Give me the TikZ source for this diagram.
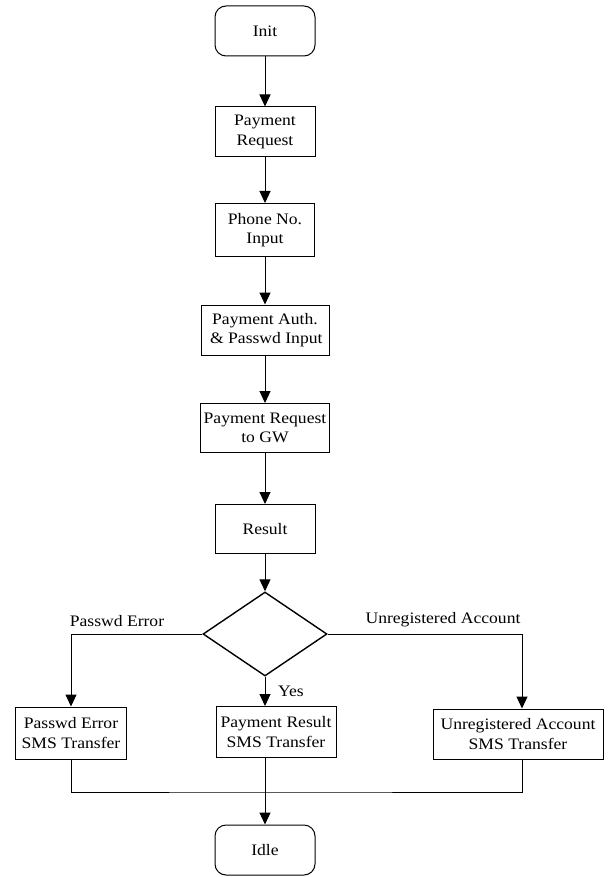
\documentclass[tikz,border=0pt]{standalone}
\usepackage{fontspec}
\setmainfont{Liberation Serif}[FakeStretch=1.1]
\usetikzlibrary{arrows.meta,shapes.geometric}
\begin{document}
\begin{tikzpicture}[x=1pt,y=-1pt,
  every node/.style={font=\fontsize{16}{19.5}\selectfont},
  proc/.style={draw, line width=1pt, inner sep=0pt, align=center},
  term/.style={proc, rounded corners=11pt},
  decide/.style={draw, diamond, line width=1.4pt, inner sep=0pt},
  flow/.style={line width=1pt},
  arr/.style={flow, -{Triangle[width=11pt,length=12pt]}},
  lbl/.style={inner sep=0pt}]
\useasboundingbox (0,0) rectangle (607,877);

% main column
\node[term, minimum width=100pt, minimum height=50pt] (init) at (265,31) {Init};
\node[proc, minimum width=100pt, minimum height=50pt] (preq) at (265,132) {Payment\\Request};
\node[proc, minimum width=99pt, minimum height=53pt] (phone) at (265,230) {Phone No.\\Input};
\node[proc, minimum width=128pt, minimum height=50pt] (auth) at (265,330) {Payment Auth.\\\,\& Passwd Input};
\node[proc, minimum width=129pt, minimum height=49pt] (gw) at (265,428) {Payment Request\\to GW};
\node[proc, minimum width=100pt, minimum height=49pt] (res) at (265,529) {Result};
\node[decide, minimum width=124pt, minimum height=84pt] (dec) at (265,634) {};

% outcome boxes
\node[proc, minimum width=111pt, minimum height=52pt] (perr) at (71,733) {Passwd Error\\SMS Transfer};
\node[proc, minimum width=120pt, minimum height=51pt] (pres) at (276,732) {Payment Result\\SMS Transfer};
\node[proc, minimum width=170pt, minimum height=50pt] (unreg) at (518,734) {Unregistered Account\\SMS Transfer};
\node[term, minimum width=100pt, minimum height=50pt] (idle) at (265,850) {Idle};

% branch labels
\node[lbl] (lpe) at (117,621) {Passwd Error};
\node[lbl] (lua) at (443,620) {Unregistered Account};
\node[lbl] (lyes) at (291,691) {Yes};

% connectors
\draw[arr] (init) -- (preq);
\draw[arr] (preq) -- (phone);
\draw[arr] (phone) -- (auth);
\draw[arr] (auth) -- (gw);
\draw[arr] (gw) -- (res);
\draw[arr] (res) -- (dec);
\draw[arr] (dec.west) -| (perr.north);
\draw[arr] (dec.south) -- (dec.south |- pres.north);
\draw[arr] (dec.east) -| ([xshift=4pt]unreg.north);

\coordinate (join) at (265,792);
\draw[flow] (perr.south) |- (join) -| ([xshift=4pt]unreg.south);
\draw[arr] (dec.south |- pres.south) -- (idle.north);
\end{tikzpicture}
\end{document}
